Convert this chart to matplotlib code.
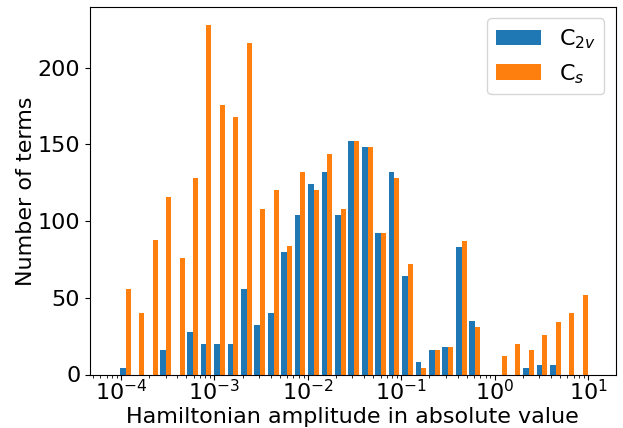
import numpy as np
import matplotlib
matplotlib.use("Agg")
import matplotlib.pyplot as plt

# histogram counts per log-spaced bin
c2v_counts = [4, 0, 0, 16, 0, 28, 20, 20, 20, 56, 32, 40, 80, 104, 124,
              132, 104, 152, 148, 92, 132, 64, 8, 16, 18, 83, 35, 0, 0, 0,
              4, 6, 6, 0, 0]
cs_counts = [56, 40, 88, 116, 76, 128, 228, 176, 168, 216, 108, 120, 84, 132, 120,
             144, 108, 152, 148, 92, 128, 72, 4, 16, 18, 87, 31, 0, 12, 20,
             16, 26, 34, 40, 52]
labels = ["C$_{2v}$", "C$_s$"]

# bin edges (log10 exponents) and visible x range
edge_lo, edge_hi = -4.027, 1.006
xlim_lo, xlim_hi = -4.332, 1.293

edges = np.logspace(edge_lo, edge_hi, len(c2v_counts) + 1)
centers = np.sqrt(edges[:-1] * edges[1:])

fig = plt.figure(figsize=(6.23, 4.28), dpi=100)
ax = fig.add_axes([0.1445, 0.125, 0.8435, 0.858])

ax.hist([centers, centers], bins=edges, weights=[c2v_counts, cs_counts], label=labels)
ax.set_xscale("log")
ax.set_xlim(10 ** xlim_lo, 10 ** xlim_hi)

ax.set_xlabel("Hamiltonian amplitude in absolute value", fontsize=16, labelpad=2)
ax.set_ylabel("Number of terms", fontsize=16, labelpad=1)
ax.tick_params(axis="both", labelsize=16)
ax.tick_params(axis="x", which="major", pad=0)
ax.legend(fontsize=16, loc="upper right")

fig.savefig("out.png", dpi=100)
